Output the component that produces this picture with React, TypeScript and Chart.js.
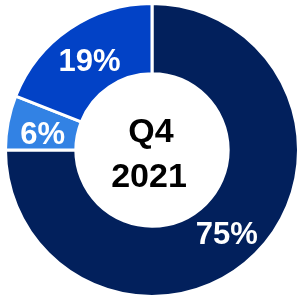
import React, { useEffect, useRef } from "react";
import { Chart, registerables } from "chart.js";

Chart.register(...registerables);

const categories = ["A", "B", "C"];
const values = [75, 6, 19];
const valueLabels = ["75%", "6%", "19%"];
const colors = ["#02205C", "#3282E4", "#0242C6"];
const centerLines = ["Q4", "2021"];

const FONT = "'Liberation Sans', Arial, sans-serif";
const labelNudge = [
  [-4, 7],
  [0, 6],
  [0, 5],
];

const labelPlugin = {
  id: "labels",
  afterDatasetsDraw(chart: any) {
    const ctx = chart.ctx;
    const meta = chart.getDatasetMeta(0);
    ctx.save();
    ctx.textAlign = "center";
    ctx.textBaseline = "middle";
    ctx.fillStyle = "#ffffff";
    ctx.font = `bold 31px ${FONT}`;
    meta.data.forEach((arc: any, i: number) => {
      const p = arc.tooltipPosition();
      ctx.fillText(valueLabels[i], p.x + labelNudge[i][0], p.y + labelNudge[i][1]);
    });
    const c = meta.data[0];
    ctx.fillStyle = "#000000";
    ctx.font = `bold 34px ${FONT}`;
    ctx.fillText(centerLines[0], c.x - 1, c.y - 17);
    ctx.fillText(centerLines[1], c.x - 3, c.y + 28);
    ctx.restore();
  },
};

export default function App() {
  const ref = useRef<HTMLCanvasElement>(null);
  useEffect(() => {
    if (!ref.current) return;
    const chart = new Chart(ref.current, {
      type: "doughnut",
      data: {
        labels: categories,
        datasets: [
          {
            data: values,
            backgroundColor: colors,
            borderColor: "#ffffff",
            borderWidth: 3,
            hoverOffset: 0,
          },
        ],
      },
      options: {
        animation: false,
        responsive: true,
        maintainAspectRatio: false,
        cutout: "52%",
        layout: { padding: 0 },
        plugins: {
          legend: { display: false },
          tooltip: { enabled: false },
        },
      },
      plugins: [labelPlugin],
    });
    return () => chart.destroy();
  }, []);
  return (
    <div
      style={{
        position: "fixed",
        left: 0,
        top: 0,
        width: 298,
        height: 296,
        overflow: "hidden",
        background: "#ffffff",
      }}
    >
      <div style={{ position: "absolute", left: 4, top: 2, width: 296, height: 296 }}>
        <canvas ref={ref} />
      </div>
    </div>
  );
}
